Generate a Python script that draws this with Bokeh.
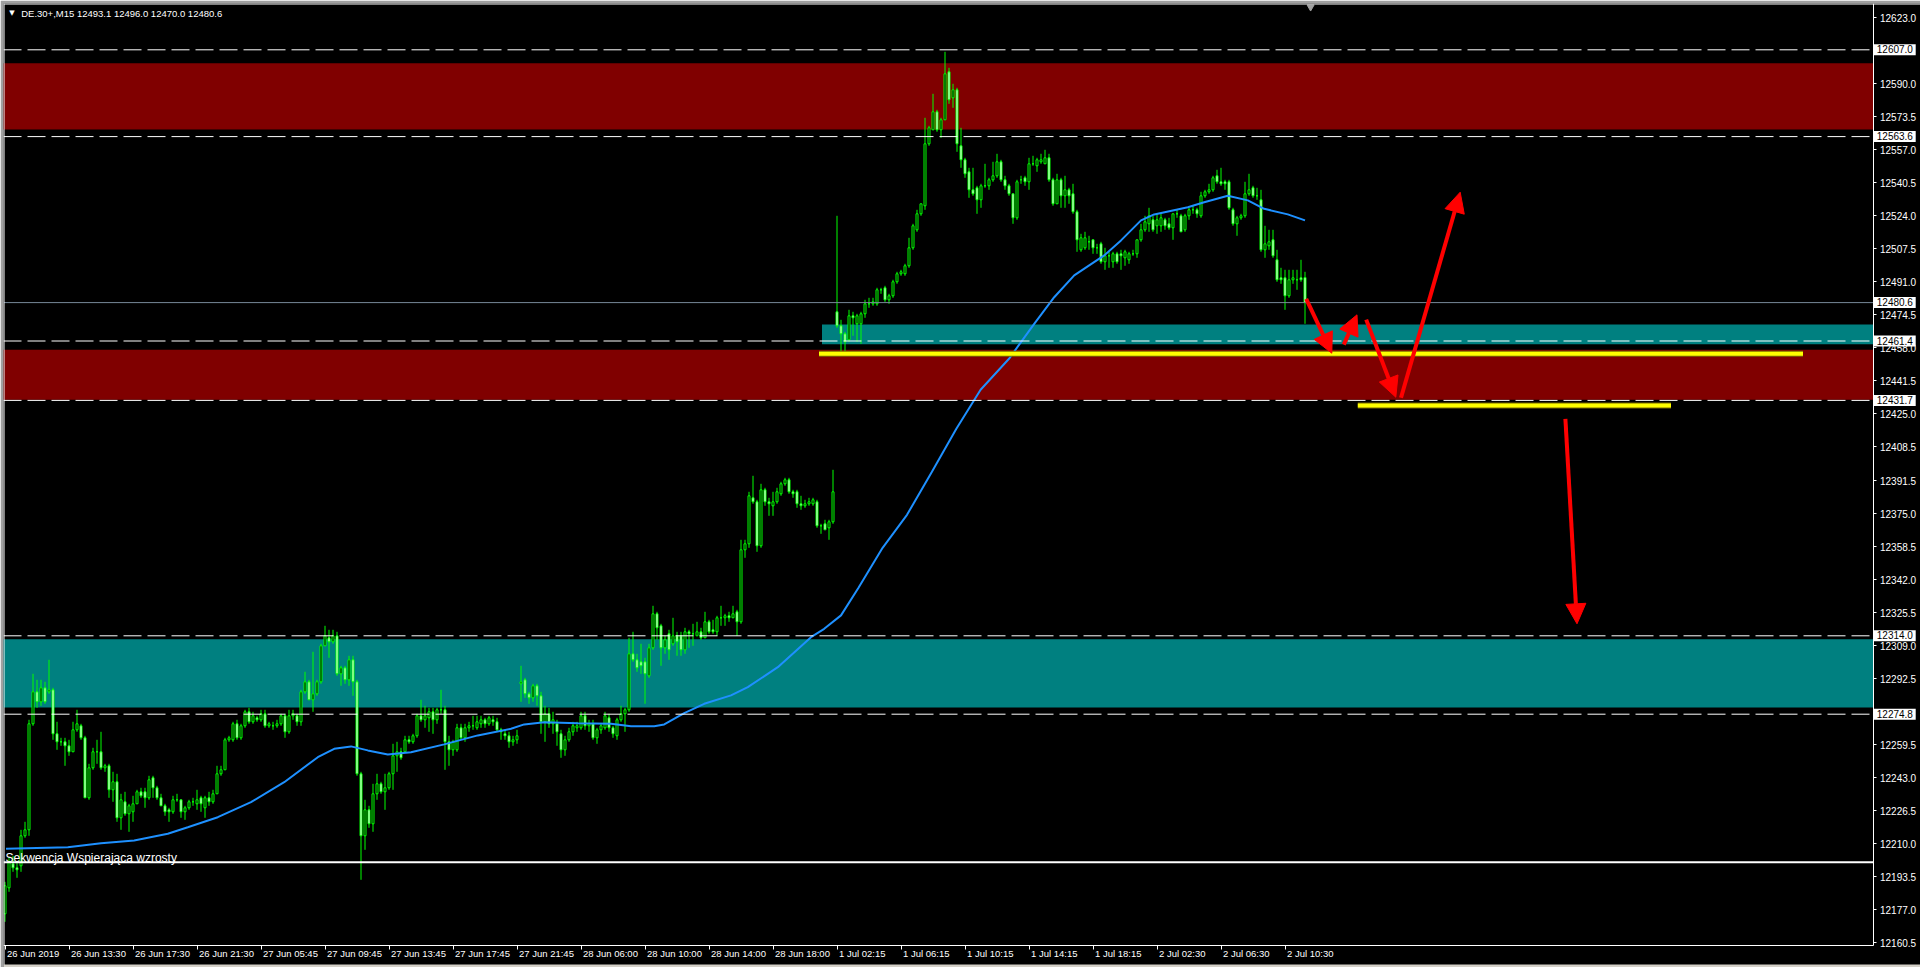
import numpy as np
from bokeh.plotting import figure
from bokeh.models import (Span, Label, LabelSet, Arrow, NormalHead, FixedTicker,
                          PrintfTickFormatter, Range1d, ColumnDataSource)
from bokeh.embed import file_html
from bokeh.resources import INLINE
from bokeh.core.properties import value

# ---------------- data (DE.30+, M15) ----------------
opens = [
    12175, 12188, 12200, 12198, 12199, 12214, 12217, 12270, 12286, 12281,
    12288, 12286, 12287, 12265, 12261, 12261, 12259, 12256, 12267, 12269,
    12263, 12233, 12248, 12256, 12256, 12248, 12249, 12237, 12241, 12223,
    12231, 12225, 12226, 12230, 12236, 12236, 12233, 12243, 12238, 12233,
    12229, 12227, 12226, 12232, 12232, 12226, 12228, 12231, 12230, 12233,
    12228, 12233, 12231, 12235, 12245, 12247, 12262, 12262, 12270, 12263,
    12269, 12276, 12271, 12273, 12272, 12275, 12269, 12269, 12269, 12270,
    12274, 12266, 12274, 12274, 12271, 12286, 12291, 12282, 12285, 12291,
    12309, 12313, 12311, 12314, 12295, 12298, 12292, 12302, 12291, 12245,
    12214, 12227, 12220, 12235, 12240, 12236, 12238, 12245, 12254, 12256,
    12256, 12262, 12261, 12264, 12274, 12272, 12273, 12276, 12272, 12277,
    12277, 12261, 12257, 12257, 12268, 12263, 12268, 12269, 12268, 12270,
    12272, 12270, 12272, 12271, 12267, 12265, 12264, 12261, 12262, 12290,
    12292, 12285, 12283, 12289, 12284, 12271, 12275, 12270, 12270, 12265,
    12257, 12262, 12266, 12268, 12268, 12274, 12269, 12270, 12263, 12267,
    12268, 12273, 12268, 12264, 12272, 12275, 12277, 12305, 12302, 12301,
    12301, 12294, 12308, 12325, 12319, 12308, 12315, 12310, 12314, 12314,
    12307, 12316, 12315, 12314, 12316, 12313, 12321, 12317, 12316, 12323,
    12323, 12324, 12323, 12326, 12321, 12357, 12360, 12383, 12381, 12359,
    12387, 12381, 12379, 12381, 12385, 12390, 12392, 12386, 12386, 12380,
    12379, 12380, 12380, 12381, 12369, 12370, 12368, 12371, 12476, 12469,
    12465, 12462, 12474, 12470, 12470, 12475, 12480, 12480, 12480, 12487,
    12488, 12482, 12484, 12491, 12495, 12495, 12499, 12508, 12517, 12525,
    12529, 12560, 12567, 12576, 12567, 12572, 12596, 12583, 12587, 12559,
    12552, 12546, 12537, 12538, 12532, 12539, 12539, 12542, 12544, 12551,
    12542, 12539, 12535, 12523, 12542, 12543, 12541, 12550, 12549, 12551,
    12550, 12553, 12542, 12530, 12542, 12534, 12537, 12535, 12526, 12507,
    12508, 12511, 12512, 12508, 12510, 12501, 12504, 12501, 12505, 12505,
    12503, 12502, 12505, 12505, 12512, 12517, 12520, 12522, 12519, 12519,
    12522, 12520, 12518, 12525, 12524, 12517, 12524, 12527, 12527, 12524,
    12534, 12536, 12537, 12544, 12541, 12541, 12541, 12527, 12520, 12523,
    12524, 12535, 12538, 12534, 12532, 12507, 12509, 12512, 12502, 12493,
    12493, 12484, 12492, 12492, 12493, 12493.1]
highs = [
    12191, 12203, 12204, 12201, 12217, 12221, 12272, 12295, 12292, 12292,
    12291, 12302, 12288, 12271, 12263, 12263, 12262, 12271, 12277, 12270,
    12264, 12250, 12258, 12262, 12266, 12250, 12250, 12246, 12245, 12235,
    12236, 12230, 12234, 12237, 12238, 12238, 12244, 12244, 12239, 12235,
    12230, 12228, 12234, 12235, 12232, 12229, 12232, 12233, 12237, 12234,
    12234, 12236, 12237, 12249, 12249, 12263, 12264, 12271, 12272, 12270,
    12277, 12278, 12276, 12274, 12277, 12277, 12271, 12271, 12272, 12275,
    12275, 12277, 12277, 12275, 12287, 12296, 12292, 12306, 12292, 12310,
    12319, 12317, 12317, 12316, 12299, 12299, 12304, 12304, 12292, 12246,
    12232, 12229, 12240, 12245, 12241, 12245, 12246, 12260, 12261, 12258,
    12264, 12264, 12265, 12275, 12282, 12279, 12278, 12278, 12278, 12287,
    12279, 12264, 12262, 12270, 12270, 12270, 12271, 12274, 12274, 12274,
    12273, 12274, 12274, 12273, 12268, 12267, 12266, 12264, 12267, 12299,
    12293, 12286, 12290, 12290, 12286, 12279, 12278, 12276, 12272, 12267,
    12264, 12268, 12271, 12271, 12276, 12276, 12272, 12272, 12268, 12270,
    12276, 12275, 12269, 12273, 12279, 12278, 12313, 12316, 12305, 12310,
    12303, 12310, 12329, 12326, 12320, 12314, 12317, 12323, 12316, 12316,
    12318, 12317, 12320, 12321, 12318, 12326, 12322, 12322, 12324, 12329,
    12325, 12326, 12329, 12327, 12362, 12362, 12386, 12394, 12382, 12390,
    12388, 12383, 12386, 12388, 12391, 12393, 12393, 12387, 12387, 12384,
    12382, 12383, 12383, 12382, 12370, 12372, 12372, 12397, 12524, 12472,
    12466, 12477, 12476, 12475, 12476, 12482, 12483, 12483, 12488, 12488,
    12489, 12485, 12492, 12496, 12497, 12500, 12513, 12520, 12527, 12530,
    12573, 12569, 12585, 12577, 12573, 12606, 12598, 12590, 12588, 12568,
    12553, 12548, 12548, 12539, 12540, 12550, 12543, 12551, 12555, 12552,
    12544, 12540, 12535, 12542, 12544, 12544, 12553, 12554, 12553, 12555,
    12557, 12555, 12543, 12545, 12543, 12544, 12538, 12540, 12527, 12515,
    12516, 12514, 12512, 12510, 12511, 12508, 12506, 12506, 12506, 12507,
    12507, 12506, 12507, 12512, 12520, 12524, 12528, 12524, 12525, 12525,
    12523, 12523, 12525, 12527, 12525, 12525, 12528, 12529, 12528, 12536,
    12537, 12540, 12544, 12547, 12548, 12542, 12542, 12528, 12524, 12525,
    12541, 12545, 12539, 12538, 12537, 12519, 12517, 12517, 12507, 12498,
    12497, 12497, 12497, 12497, 12502, 12496.0]
lows = [
    12171, 12186, 12196, 12193, 12196, 12213, 12214, 12269, 12278, 12279,
    12280, 12285, 12262, 12257, 12259, 12249, 12254, 12256, 12266, 12262,
    12233, 12232, 12247, 12250, 12247, 12246, 12233, 12231, 12221, 12217,
    12224, 12216, 12221, 12230, 12233, 12228, 12232, 12233, 12232, 12229,
    12224, 12221, 12225, 12231, 12223, 12222, 12227, 12229, 12227, 12226,
    12223, 12229, 12230, 12235, 12244, 12247, 12261, 12261, 12262, 12262,
    12268, 12270, 12270, 12271, 12271, 12268, 12268, 12267, 12268, 12269,
    12263, 12265, 12272, 12269, 12269, 12285, 12282, 12276, 12284, 12290,
    12309, 12303, 12310, 12294, 12289, 12290, 12289, 12284, 12244, 12192,
    12207, 12218, 12216, 12232, 12235, 12227, 12237, 12237, 12246, 12252,
    12256, 12260, 12260, 12263, 12271, 12268, 12266, 12265, 12270, 12275,
    12247, 12249, 12254, 12256, 12262, 12261, 12266, 12267, 12267, 12268,
    12268, 12269, 12269, 12266, 12262, 12262, 12258, 12259, 12260, 12281,
    12283, 12280, 12281, 12279, 12265, 12261, 12268, 12265, 12259, 12253,
    12254, 12261, 12264, 12266, 12267, 12267, 12266, 12262, 12260, 12265,
    12267, 12266, 12263, 12262, 12271, 12266, 12276, 12301, 12296, 12295,
    12280, 12293, 12307, 12312, 12299, 12305, 12302, 12309, 12304, 12304,
    12305, 12308, 12309, 12314, 12312, 12313, 12315, 12315, 12314, 12319,
    12319, 12321, 12323, 12314, 12320, 12353, 12358, 12380, 12356, 12358,
    12379, 12374, 12374, 12380, 12384, 12389, 12385, 12383, 12378, 12377,
    12378, 12379, 12379, 12368, 12365, 12367, 12362, 12370, 12468, 12456,
    12456, 12461, 12464, 12461, 12460, 12473, 12478, 12479, 12479, 12485,
    12481, 12480, 12483, 12490, 12494, 12494, 12498, 12507, 12516, 12524,
    12527, 12559, 12567, 12566, 12563, 12572, 12580, 12578, 12556, 12548,
    12543, 12533, 12534, 12525, 12528, 12538, 12537, 12541, 12543, 12541,
    12537, 12534, 12520, 12522, 12540, 12539, 12537, 12549, 12546, 12550,
    12550, 12541, 12529, 12530, 12528, 12528, 12530, 12525, 12506, 12506,
    12507, 12507, 12505, 12505, 12500, 12497, 12498, 12498, 12500, 12497,
    12499, 12500, 12504, 12503, 12511, 12516, 12516, 12516, 12515, 12516,
    12517, 12517, 12512, 12523, 12516, 12516, 12522, 12525, 12523, 12523,
    12533, 12535, 12536, 12540, 12539, 12537, 12527, 12519, 12514, 12522,
    12523, 12534, 12533, 12532, 12506, 12503, 12507, 12503, 12491, 12490,
    12477, 12483, 12490, 12487, 12491, 12470.0]
closes = [
    12189, 12201, 12198, 12197, 12214, 12217, 12270, 12286, 12281, 12288,
    12281, 12287, 12265, 12261, 12261, 12259, 12256, 12267, 12270, 12263,
    12233, 12248, 12256, 12256, 12248, 12249, 12237, 12241, 12223, 12232,
    12225, 12229, 12230, 12236, 12234, 12233, 12242, 12238, 12233, 12229,
    12226, 12226, 12232, 12232, 12226, 12228, 12231, 12231, 12232, 12230,
    12233, 12231, 12235, 12245, 12247, 12262, 12263, 12270, 12263, 12269,
    12276, 12271, 12274, 12272, 12275, 12269, 12270, 12269, 12270, 12274,
    12266, 12274, 12275, 12271, 12286, 12291, 12282, 12285, 12291, 12309,
    12314, 12311, 12314, 12295, 12298, 12292, 12302, 12291, 12245, 12214,
    12227, 12220, 12235, 12240, 12236, 12238, 12245, 12254, 12256, 12253,
    12262, 12261, 12264, 12274, 12272, 12274, 12276, 12272, 12277, 12277,
    12261, 12257, 12261, 12268, 12263, 12268, 12269, 12269, 12271, 12272,
    12270, 12273, 12271, 12267, 12266, 12264, 12261, 12262, 12264, 12291,
    12285, 12283, 12289, 12284, 12271, 12275, 12270, 12272, 12266, 12257,
    12262, 12266, 12269, 12269, 12274, 12269, 12270, 12263, 12267, 12269,
    12274, 12268, 12265, 12272, 12275, 12277, 12305, 12302, 12298, 12299,
    12295, 12308, 12325, 12318, 12308, 12312, 12307, 12314, 12311, 12307,
    12316, 12315, 12315, 12316, 12313, 12321, 12316, 12316, 12323, 12323,
    12324, 12323, 12325, 12321, 12357, 12360, 12384, 12381, 12359, 12387,
    12381, 12380, 12381, 12386, 12390, 12392, 12386, 12385, 12380, 12379,
    12380, 12381, 12382, 12369, 12369, 12367, 12371, 12386, 12469, 12465,
    12461, 12474, 12473, 12474, 12475, 12480, 12480, 12481, 12487, 12487,
    12482, 12484, 12491, 12495, 12496, 12499, 12508, 12519, 12525, 12530,
    12560, 12568, 12576, 12567, 12572, 12595, 12582, 12587, 12560, 12552,
    12545, 12537, 12535, 12532, 12539, 12539, 12542, 12544, 12551, 12542,
    12539, 12535, 12523, 12541, 12542, 12541, 12550, 12550, 12552, 12552,
    12553, 12542, 12530, 12542, 12534, 12537, 12534, 12526, 12512, 12513,
    12513, 12511, 12508, 12508, 12501, 12504, 12504, 12505, 12501, 12504,
    12506, 12505, 12505, 12512, 12517, 12521, 12524, 12517, 12522, 12523,
    12519, 12518, 12525, 12525, 12516, 12524, 12527, 12527, 12525, 12534,
    12536, 12537, 12543, 12541, 12540, 12540, 12528, 12520, 12523, 12524,
    12535, 12537, 12534, 12534, 12507, 12510, 12511, 12504, 12492, 12492,
    12484, 12492, 12493, 12492, 12492, 12480.6]

# moving average (blue line), read at sampled bar positions
ma_bar = [0.25, 15.7, 24, 32.3, 40.7, 45.7, 53.2, 61.5, 69.8, 78.2, 82.3, 86.5,
          90.7, 95.7, 101.5, 109.8, 118.2, 126.5, 129.8, 134.8, 143.2, 151.5,
          156.5, 162.3, 164.8, 169.8, 174.8, 181.5, 185.7, 193.2, 201.5, 204.8,
          209, 213.3, 219.4, 225.5, 231.7, 237.8, 243.9, 251, 257.3, 262.3,
          267.3, 274.8, 279, 284, 287.3, 295.7, 299.8, 305.7, 310.7, 314.8,
          320.7, 325]
ma_price = [12207.5, 12208.3, 12210.3, 12211.7, 12215.0, 12218.3, 12223.3,
            12230.8, 12240.8, 12253.3, 12257.5, 12258.7, 12256.7, 12254.7,
            12255.8, 12259.7, 12264.2, 12267.5, 12269.7, 12270.8, 12270.3,
            12270.0, 12268.8, 12268.8, 12269.7, 12275.3, 12280.0, 12284.2,
            12288.3, 12298.3, 12313.3, 12317.5, 12324.2, 12337.8, 12358.0,
            12374.5, 12395.9, 12417.4, 12437.0, 12452.5, 12470.0, 12483.3,
            12494.2, 12504.2, 12511.7, 12521.7, 12524.7, 12528.3, 12530.8,
            12534.0, 12531.7, 12527.5, 12524.7, 12521.7]

time_tick_bars = [0, 16, 32, 48, 64, 80, 96, 112, 128, 144, 160, 176, 192,
                  208, 224, 240, 256, 272, 288, 304, 320]
time_tick_labels = ["26 Jun 2019", "26 Jun 13:30", "26 Jun 17:30", "26 Jun 21:30",
                    "27 Jun 05:45", "27 Jun 09:45", "27 Jun 13:45", "27 Jun 17:45",
                    "27 Jun 21:45", "28 Jun 06:00", "28 Jun 10:00", "28 Jun 14:00",
                    "28 Jun 18:00", "1 Jul 02:15", "1 Jul 06:15", "1 Jul 10:15",
                    "1 Jul 14:15", "1 Jul 18:15", "2 Jul 02:30", "2 Jul 06:30",
                    "2 Jul 10:30"]
price_ticks = [12160.5, 12177.0, 12193.5, 12210.0, 12226.5, 12243.0, 12259.5,
               12292.5, 12309.0, 12325.5, 12342.0, 12358.5, 12375.0, 12391.5,
               12408.5, 12425.0, 12441.5, 12458.0, 12474.5, 12491.0, 12507.5,
               12524.0, 12540.5, 12557.0, 12573.5, 12590.0, 12623.0]

dashed_levels = [12607.0, 12563.6, 12461.4, 12431.7, 12314.0, 12274.8]
last_price = 12480.6
support_price = 12200.8
support_text = "Sekwencja Wspierająca wzrosty"
title_text = "DE.30+,M15  12493.1 12496.0 12470.0 12480.6"

zone_start = [-10, -10, -10, 204.25]
zone_bottom = [12567.2, 12432.0, 12278.2, 12459.8]
zone_top = [12600.3, 12457.0, 12312.3, 12469.6]
zone_color = ["#800000", "#800000", "#008080", "#008080"]

yellow_start = [203.5, 338.2]
yellow_end = [449.5, 416.5]
yellow_price = [12455.0, 12429.1]

arrow_x0 = [325.3, 334.7, 340.3, 349.0, 390.1]
arrow_y0 = [12482.5, 12459.6, 12472.1, 12433.0, 12422.5]
arrow_x1 = [331.7, 338.0, 347.7, 363.8, 393.0]
arrow_y1 = [12455.3, 12474.5, 12433.3, 12535.8, 12320.0]

# ---------------- figure ----------------
# 4 px per bar, 2 px per index point; the frame covers the whole window
# and the two axes sit at fixed positions inside it (MetaTrader layout)
X0 = -0.375
X1 = X0 + 1917 / 4.0
X_AX = 467.0              # price-scale line
Y1 = 12630.15
Y0 = Y1 - 964 / 2.0
Y_AX = 12159.4            # time-scale line

p = figure(width=1920, height=967, output_backend="svg", toolbar_location=None,
           x_range=Range1d(X0, X1), y_range=Range1d(Y0, Y1),
           y_axis_location="right", min_border_left=3, min_border_top=3,
           min_border_right=0, min_border_bottom=0)
p.background_fill_color = "black"
p.border_fill_color = "#A0A0A0"
p.outline_line_color = None
p.xgrid.visible = False
p.ygrid.visible = False

bars = np.arange(len(closes))
o = np.array(opens, dtype=float)
c = np.array(closes, dtype=float)

# zones
p.quad(left=zone_start, right=[X_AX] * len(zone_start), bottom=zone_bottom,
       top=zone_top, fill_color=zone_color, line_color=None)

# candles
p.segment(x0=bars, y0=highs, x1=bars, y1=lows, line_color="#00FF00", line_width=1)
body_fill = ["black" if cc >= oo else "white" for oo, cc in zip(opens, closes)]
p.vbar(x=bars, top=np.maximum(o, c), bottom=np.minimum(o, c), width=0.5,
       fill_color=body_fill, line_color="#00FF00", line_width=1)

# moving average
p.line(ma_bar, ma_price, line_color="#1E90FF", line_width=2)

# horizontal levels (up to the price scale)
n = len(dashed_levels)
p.segment(x0=[X0] * n, y0=dashed_levels, x1=[X_AX] * n, y1=dashed_levels,
          line_color="white", line_width=1, line_dash="18 6")
p.segment(x0=[X0], y0=[last_price], x1=[X_AX], y1=[last_price],
          line_color="#778899", line_width=1)
p.segment(x0=[X0], y0=[support_price], x1=[X_AX], y1=[support_price],
          line_color="white", line_width=2)

# chart frame lines (left / top) and bottom window edge
p.add_layout(Span(location=-0.25, dimension="height", line_color="white", line_width=1))
p.add_layout(Span(location=12629.9, dimension="width", line_color="white", line_width=1))
p.add_layout(Span(location=Y0 + 0.75, dimension="width", line_color="#D4D0C8",
                  line_width=3))

# yellow lines
p.segment(x0=yellow_start, y0=yellow_price, x1=yellow_end, y1=yellow_price,
          line_color="#7A6A00", line_width=6)
p.segment(x0=yellow_start, y0=yellow_price, x1=yellow_end, y1=yellow_price,
          line_color="#FFFF00", line_width=4)

# arrows
asrc = ColumnDataSource(dict(x0=arrow_x0, y0=arrow_y0, x1=arrow_x1, y1=arrow_y1))
p.add_layout(Arrow(source=asrc, x_start="x0", y_start="y0", x_end="x1", y_end="y1",
                   line_color="#FF0000", line_width=4,
                   end=NormalHead(size=20, fill_color="#FF0000", line_color="#FF0000")))

# chart shift marker
p.scatter([326.4], [12628.4], marker="inverted_triangle", size=7,
          fill_color="#A0A0A0", line_color="#A0A0A0")

# texts inside the chart
p.add_layout(Label(x=1.75, y=12625.4, text="▼", text_color="white",
                   text_font="DejaVu Sans", text_font_size="7px",
                   text_align="center", text_baseline="middle"))
p.add_layout(Label(x=4.05, y=12625.15, text=title_text, text_color="white",
                   text_font="Liberation Sans", text_font_size="9.5px",
                   text_baseline="middle"))
p.add_layout(Label(x=0.125, y=12203.15, text=support_text, text_color="white",
                   text_font="Liberation Sans", text_font_size="12px",
                   text_baseline="alphabetic"))

# axes at fixed positions
ya = p.yaxis[0]
ya.fixed_location = X_AX
ya.bounds = (Y_AX, Y1)
ya.ticker = FixedTicker(ticks=price_ticks)
ya.formatter = PrintfTickFormatter(format="%.1f")
ya.major_tick_out = 3
ya.major_label_standoff = 4
xa = p.xaxis[0]
xa.fixed_location = Y_AX
xa.bounds = (X0, X_AX)
xa.ticker = FixedTicker(ticks=time_tick_bars)
xa.major_label_overrides = {b: "" for b in time_tick_bars}
xa.major_tick_out = 4
xa.major_label_standoff = 0
for ax in (xa, ya):
    ax.axis_line_color = "white"
    ax.major_tick_line_color = "white"
    ax.minor_tick_line_color = None
    ax.major_tick_in = 0
    ax.major_label_text_color = "white"
    ax.major_label_text_font = "Liberation Sans"
    ax.major_label_text_font_size = "10px"

# time labels, left-aligned at their tick (MetaTrader style)
tsrc = ColumnDataSource(dict(x=time_tick_bars, y=[12155.15] * len(time_tick_bars),
                             text=time_tick_labels))
p.add_layout(LabelSet(x="x", y="y", text="text", source=tsrc, x_offset=2,
                      text_align="left", text_baseline="middle", text_color="white",
                      text_font=value("Liberation Sans"), text_font_size="9.5px"))

# boxed price labels on the price scale
box_levels = dashed_levels + [last_price]
bsrc = ColumnDataSource(dict(x=[X_AX] * len(box_levels), y=box_levels,
                             text=["\u00a0%.1f\u00a0" % v for v in box_levels]))
p.add_layout(LabelSet(x="x", y="y", text="text", source=bsrc, x_offset=1,
                      text_align="left", text_baseline="middle", text_color="black",
                      text_font=value("Liberation Sans"), text_font_size="10px",
                      background_fill_color="white"))

open("out.html", "w").write(file_html(p, INLINE))
